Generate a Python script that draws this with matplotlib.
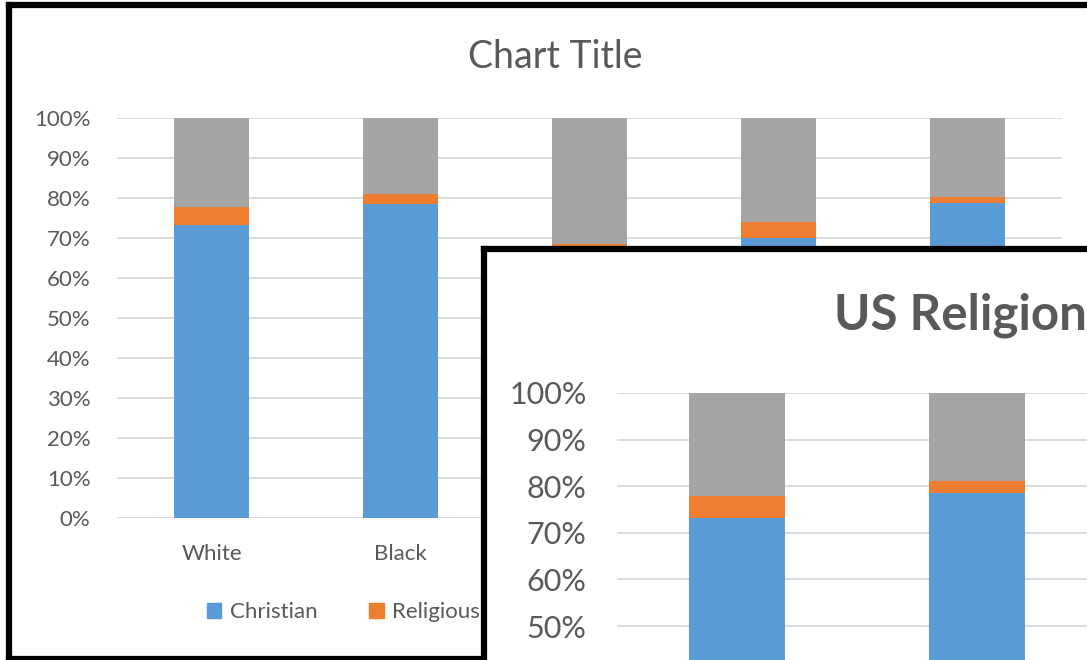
import matplotlib
matplotlib.use("Agg")
import matplotlib.pyplot as plt
from matplotlib.patches import Patch
import numpy as np

plt.rcParams['font.family'] = ['Lato', 'DejaVu Sans']

# data (shares of each group)
categories = ["White", "Black", "Asian", "Hispanic", "Other"]
christian = [0.732, 0.785, 0.66, 0.70, 0.787]
religious = [0.046, 0.026, 0.025, 0.04, 0.016]
unaffiliated = [1 - c - r for c, r in zip(christian, religious)]
series_names = ["Christian", "Religious (non-Christian)", "Unaffiliated"]
pct_ticks = [0, 0.1, 0.2, 0.3, 0.4, 0.5, 0.6, 0.7, 0.8, 0.9, 1.0]
pct_labels = ["0%", "10%", "20%", "30%", "40%", "50%", "60%", "70%", "80%", "90%", "100%"]

BLUE = "#5B9BD5"
ORANGE = "#ED7D31"
GRAY = "#A5A5A5"
TXT = "#595959"
GRID = "#D9D9D9"

W, H = 1087, 660
fig = plt.figure(figsize=(W / 100, H / 100), dpi=100)


def box(left, top, width, height):
    # pixel box -> figure fraction rect
    return [left / W, 1 - (top + height) / H, width / W, height / H]


def stacked(ax, width):
    x = np.arange(len(categories))
    bottom2 = np.array(christian) + np.array(religious)
    ax.bar(x, christian, width, color=BLUE)
    ax.bar(x, religious, width, bottom=christian, color=ORANGE)
    ax.bar(x, unaffiliated, width, bottom=bottom2, color=GRAY)
    ax.set_xlim(-0.5, len(categories) - 0.5)
    ax.set_ylim(0, 1)
    ax.set_yticks(pct_ticks)
    ax.yaxis.grid(True, color=GRID, linewidth=1.3)
    ax.set_axisbelow(True)
    for s in ax.spines.values():
        s.set_visible(False)
    return x


# outer frame of the background chart
frame = fig.add_axes(box(9, 5, 1200, 654), zorder=0)
frame.set_xticks([])
frame.set_yticks([])
for s in frame.spines.values():
    s.set_linewidth(4.5)
    s.set_color("black")

# background chart
ax = fig.add_axes(box(117, 118, 945, 400), zorder=1)
ax.patch.set_alpha(0)
x = stacked(ax, 0.4)
ax.set_yticklabels(pct_labels)
ax.set_xticks(x)
ax.set_xticklabels(categories)
ax.tick_params(axis="y", length=0, pad=19, labelsize=16, labelcolor=TXT)
ax.tick_params(axis="x", length=0, pad=19, labelsize=16, labelcolor=TXT)
fig.text(555 / W, 1 - 57 / H, "Chart Title", fontsize=27, color=TXT,
         ha="center", va="center")
handles = [Patch(color=c) for c in (BLUE, ORANGE, GRAY)]
ax.legend(handles, series_names, loc="center left", ncol=3,
          bbox_to_anchor=(207 / W, 1 - 612 / H), bbox_transform=fig.transFigure,
          frameon=False, fontsize=16, labelcolor=TXT, borderpad=0, borderaxespad=0,
          handlelength=0.65, handleheight=0.65, handletextpad=0.4, columnspacing=2.3)

# inset screenshot frame
inset_frame = fig.add_axes(box(484, 249, 1200, 700), zorder=2)
inset_frame.set_xticks([])
inset_frame.set_yticks([])
for s in inset_frame.spines.values():
    s.set_linewidth(4.5)
    s.set_color("black")

# inset chart (zoomed copy)
ax2 = fig.add_axes(box(617, 393, 1200, 466), zorder=3)
ax2.patch.set_alpha(0)
stacked(ax2, 0.4)
ax2.set_yticklabels(pct_labels)
ax2.set_xticks([])
ax2.tick_params(axis="y", length=0, pad=22, labelsize=22, labelcolor=TXT)
fig.text(834 / W, 1 - 315 / H, "US Religion", fontsize=35.5, fontweight="bold",
         color=TXT, ha="left", va="center", zorder=4)

fig.savefig("out.png", dpi=100)
